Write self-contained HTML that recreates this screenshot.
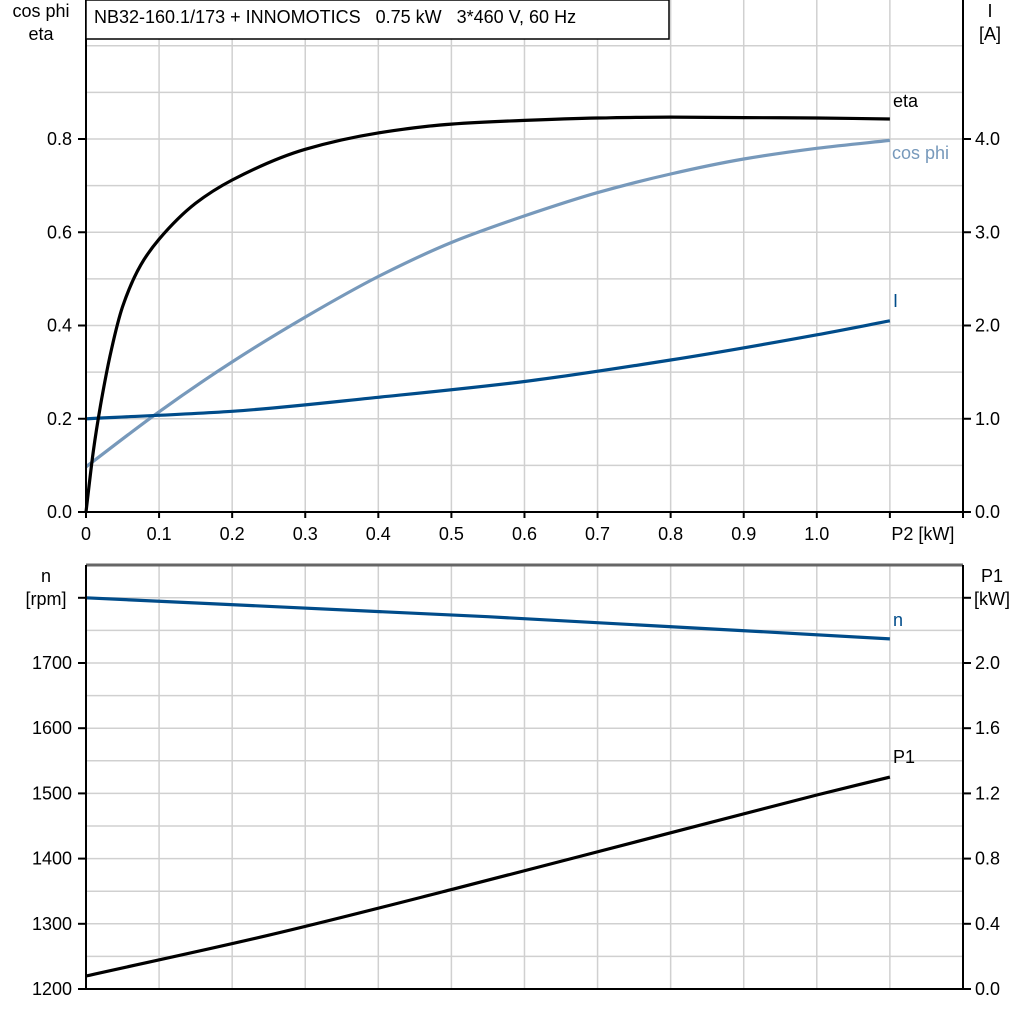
<!DOCTYPE html>
<html><head><meta charset="utf-8"><style>
body{margin:0;background:#fff;}
svg text{font-family:"Liberation Sans",sans-serif;font-size:18px;white-space:pre;}
</style></head><body>
<svg id="c" width="1024" height="1024"></svg>
<script>
const p2Ticks=[0,0.1,0.2,0.3,0.4,0.5,0.6,0.7,0.8,0.9,1.0];
const leftTopTicks=[0,0.2,0.4,0.6,0.8];
const rightTopTicks=[0,1,2,3,4];
const nTicks=[1200,1300,1400,1500,1600,1700];
const p1Ticks=[0,0.4,0.8,1.2,1.6,2.0];
const etaX=[0,0.01,0.02,0.035,0.05,0.075,0.1,0.15,0.2,0.3,0.4,0.5,0.6,0.7,0.8,0.9,1.0,1.1];
const etaY=[0,0.13,0.23,0.35,0.44,0.53,0.585,0.662,0.712,0.778,0.813,0.832,0.84,0.845,0.847,0.846,0.845,0.843];
const cosX=[0,0.1,0.2,0.3,0.4,0.5,0.6,0.7,0.8,0.9,1.0,1.1];
const cosY=[0.097,0.215,0.322,0.418,0.505,0.578,0.635,0.685,0.725,0.757,0.78,0.797];
const iX=[0,0.2,0.4,0.6,0.8,1.0,1.1];
const iY=[1.0,1.08,1.23,1.4,1.63,1.9,2.05];
const nX=[0,0.55,1.1];
const nY=[1800,1771,1737];
const p1X=[0,0.25,0.5,0.75,1.0,1.1];
const p1Y=[0.08,0.33,0.61,0.9,1.19,1.3];
const NS="http://www.w3.org/2000/svg",svg=document.getElementById('c');
function el(t,a,txt){const e=document.createElementNS(NS,t);for(const k in a)e.setAttribute(k,a[k]);if(txt!==undefined)e.textContent=txt;svg.appendChild(e);return e;}
const X=v=>86+v*730.8;
const yT=v=>512-v*466.25, yI=v=>512-v*93.25;
const yN=v=>989-(v-1200)*0.652, yP=v=>989-v*163;
function grid(top,bot,hys){
 for(let i=1;i<=11;i++){const g=el('line',{x1:X(i*0.1),x2:X(i*0.1),y1:top,y2:bot,stroke:'#d0d0d0','stroke-width':1.5});}
 hys.forEach(y=>{const g=el('line',{x1:86,x2:963,y1:y,y2:y,stroke:'#d0d0d0','stroke-width':1.5});});
}
grid(0,512,[1,2,3,4,5,6,7,8,9,10].map(i=>yT(i*0.1)));
grid(565,989,[1,2,3,4,5,6,7,8,9,10,11,12].map(i=>yN(1200+i*50)));
function curve(xs,ys,fy,col,name){
 const px=xs.map(X),py=ys.map(fy),n=px.length;
 const d=[],m=new Array(n);
 for(let i=0;i<n-1;i++)d.push((py[i+1]-py[i])/(px[i+1]-px[i]));
 m[0]=d[0];m[n-1]=d[n-2];
 for(let i=1;i<n-1;i++){m[i]=(d[i-1]*d[i]<=0)?0:(3*(px[i+1]-px[i-1]))/((2*px[i+1]-px[i]-px[i-1])/d[i-1]+(px[i+1]+px[i]-2*px[i-1])/d[i]);}
 let s='M'+px[0].toFixed(1)+','+py[0].toFixed(1);
 for(let i=0;i<n-1;i++){const h=(px[i+1]-px[i])/3;
  s+=' C'+(px[i]+h).toFixed(1)+','+(py[i]+m[i]*h).toFixed(1)+' '+(px[i+1]-h).toFixed(1)+','+(py[i+1]-m[i+1]*h).toFixed(1)+' '+px[i+1].toFixed(1)+','+py[i+1].toFixed(1);}
 const p=el('path',{d:s,fill:'none',stroke:col,'stroke-width':3.2,'stroke-linejoin':'round'});}
curve(cosX,cosY,yT,'#7799bb','cos-phi-line');
curve(iX,iY,yI,'#004c8a','current-line');
curve(etaX,etaY,yT,'#000','eta-line');
curve(nX,nY,yN,'#004c8a','speed-line');
curve(p1X,p1Y,yP,'#000','p1-line');
function ax(x1,y1,x2,y2,c,w,n){const a=el('line',{x1,y1,x2,y2,stroke:c,'stroke-width':w});}
ax(86,0,86,512,'#000',2,'top-left-axis');ax(963,0,963,518,'#000',2,'top-right-axis');ax(80,512,963,512,'#000',2,'top-x-axis');
ax(86,565,963,565,'#666',3,'bottom-top-border');ax(86,565,86,989,'#000',2,'bottom-left-axis');ax(963,565,963,989,'#000',2,'bottom-right-axis');ax(86,989,963,989,'#000',2,'bottom-x-axis');
function tl(x,y,s,anchor,n,fill){const t=el('text',{x,y,'text-anchor':anchor,fill:fill||'#000'},s);return t;}
p2Ticks.forEach(v=>{ax(X(v),512,X(v),518,'#000',2,'x-tick');tl(X(v),540,v===0?'0':v.toFixed(1),'middle','x-tick-label');});
ax(X(1.1),512,X(1.1),518,'#000',2,'x-tick');
tl(X(1.1)+33,540,'P2 [kW]','middle','x-axis-title');
leftTopTicks.forEach(v=>{ax(78,yT(v),86,yT(v),'#000',2,'y-tick');tl(72,yT(v)+6,v.toFixed(1),'end','y-left-tick-label');});
rightTopTicks.forEach(v=>{ax(963,yI(v),971,yI(v),'#000',2,'y-tick');tl(975,yI(v)+6,v.toFixed(1),'start','y-right-tick-label');});
nTicks.forEach(v=>{ax(78,yN(v),86,yN(v),'#000',2,'y-tick');tl(72,yN(v)+6,String(v),'end','n-tick-label');});
ax(78,yN(1800),86,yN(1800),'#000',2,'y-tick');
p1Ticks.forEach(v=>{ax(963,yP(v),971,yP(v),'#000',2,'y-tick');tl(975,yP(v)+6,v.toFixed(1),'start','p1-tick-label');});
ax(963,yP(2.4),971,yP(2.4),'#000',2,'y-tick');
tl(41,17,'cos phi','middle','left-axis-title');tl(41,40,'eta','middle','left-axis-title-2');
tl(990,17,'I','middle','right-axis-title');tl(990,40,'[A]','middle','right-axis-unit');
tl(46,582,'n','middle','n-axis-title');tl(46,605,'[rpm]','middle','n-axis-unit');
tl(992,582,'P1','middle','p1-axis-title');tl(992,605,'[kW]','middle','p1-axis-unit');
tl(893,107,'eta','start','eta-label');tl(892,159,'cos phi','start','cos-phi-label','#7799bb');
tl(893,307,'I','start','current-label','#004c8a');tl(893,626,'n','start','n-label','#004c8a');tl(893,763,'P1','start','p1-label');
const box=el('rect',{x:86,y:0,width:583,height:39,fill:'#fff',stroke:'#000','stroke-width':1.5});
tl(94,23,'NB32-160.1/173 + INNOMOTICS   0.75 kW   3*460 V, 60 Hz','start','chart-title');
</script>
</body></html>
